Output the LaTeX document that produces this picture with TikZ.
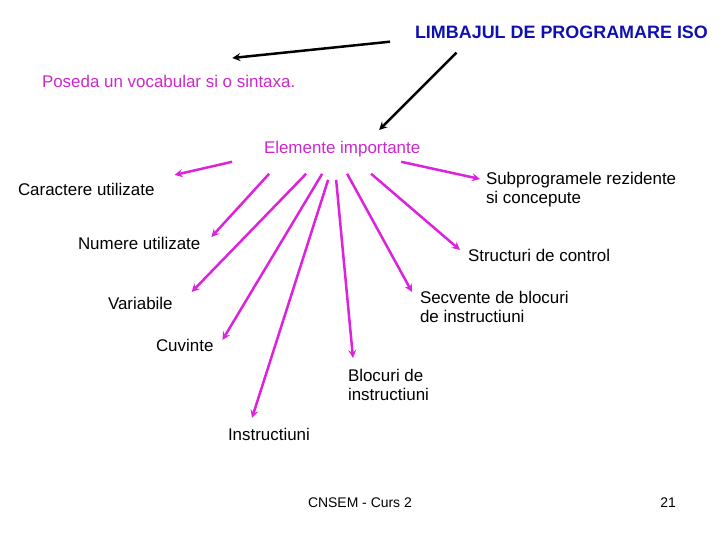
\documentclass[tikz,border=0pt]{standalone}
\usepackage{fontspec}
\setmainfont{Liberation Sans}
\usepackage{xcolor}
\usepackage{tikz}
\usetikzlibrary{arrows}

\definecolor{titleblue}{RGB}{16,16,176}
\definecolor{magtext}{RGB}{204,40,204}
\definecolor{magline}{RGB}{221,34,221}

\begin{document}
\begin{tikzpicture}[
    x=1bp, y=-1bp,
    every node/.style={inner sep=0pt, outer sep=0pt, anchor=north west, align=left, font=\fontsize{17}{19}\selectfont},
    item/.style={text=black},
    pinkitem/.style={text=magtext},
    link/.style={->, >=stealth, line width=2.5bp, draw=black},
    pinklink/.style={->, >=stealth, line width=2.5bp, draw=magline}
]
    \useasboundingbox (0,0) rectangle (720,540);

    \node[text=titleblue, font=\fontsize{18}{20}\selectfont\bfseries] (title) at (415,26) {LIMBAJUL DE PROGRAMARE ISO};
    \node[pinkitem] (vocab) at (42,75) {Poseda un vocabular si o sintaxa.};
    \node[pinkitem] (elem) at (264,141) {Elemente importante};

    \node[item] (car) at (18,183) {Caractere utilizate};
    \node[item] (num) at (78,237) {Numere utilizate};
    \node[item] (var) at (108,297) {Variabile};
    \node[item] (cuv) at (156,339) {Cuvinte};
    \node[item] (instr) at (228,428) {Instructiuni};
    \node[item] (bloc) at (348,369) {Blocuri de\\instructiuni};
    \node[item] (secv) at (420,291) {Secvente de blocuri\\de instructiuni};
    \node[item] (struct) at (468,249) {Structuri de control};
    \node[item] (subp) at (486,172) {Subprogramele rezidente\\si concepute};

    % sageti negre
    \draw[link] ([shift={(-25,3)}]title.south west) -- ([shift={(-63,-17)}]vocab.north east);
    \draw[link] ([shift={(-105,14)}]title.south) -- ([shift={(37,-11)}]elem.north);

    % elementele importante
    \draw[pinklink] ([shift={(-110,5)}]elem.south) -- ([shift={(20,-8)}]car.north east);
    \draw[pinklink] ([shift={(-73,17)}]elem.south) -- ([shift={(11,0)}]num.north east);
    \draw[pinklink] ([shift={(-36,17)}]elem.south) -- ([shift={(19,-5)}]var.north east);
    \draw[pinklink] ([shift={(-20,17)}]elem.south) -- ([shift={(9,1)}]cuv.north east);
    \draw[pinklink] ([shift={(-14,23)}]elem.south) -- ([shift={(24,-10)}]instr.north west);
    \draw[pinklink] ([shift={(-6,23)}]elem.south) -- ([shift={(5,-11)}]bloc.north west);
    \draw[pinklink] ([shift={(5,17)}]elem.south) -- ([shift={(-8,1)}]secv.north west);
    \draw[pinklink] ([shift={(29,17)}]elem.south) -- ([shift={(-8,1)}]struct.north west);
    \draw[pinklink] ([shift={(59,5)}]elem.south) -- ([shift={(-6,7)}]subp.north west);

    \node[item, font=\fontsize{14}{16}\selectfont] (footer) at (308,498) {CNSEM - Curs 2};
    \node[item, anchor=north, font=\fontsize{14}{16}\selectfont] (page) at (668,498) {21};
\end{tikzpicture}
\end{document}
